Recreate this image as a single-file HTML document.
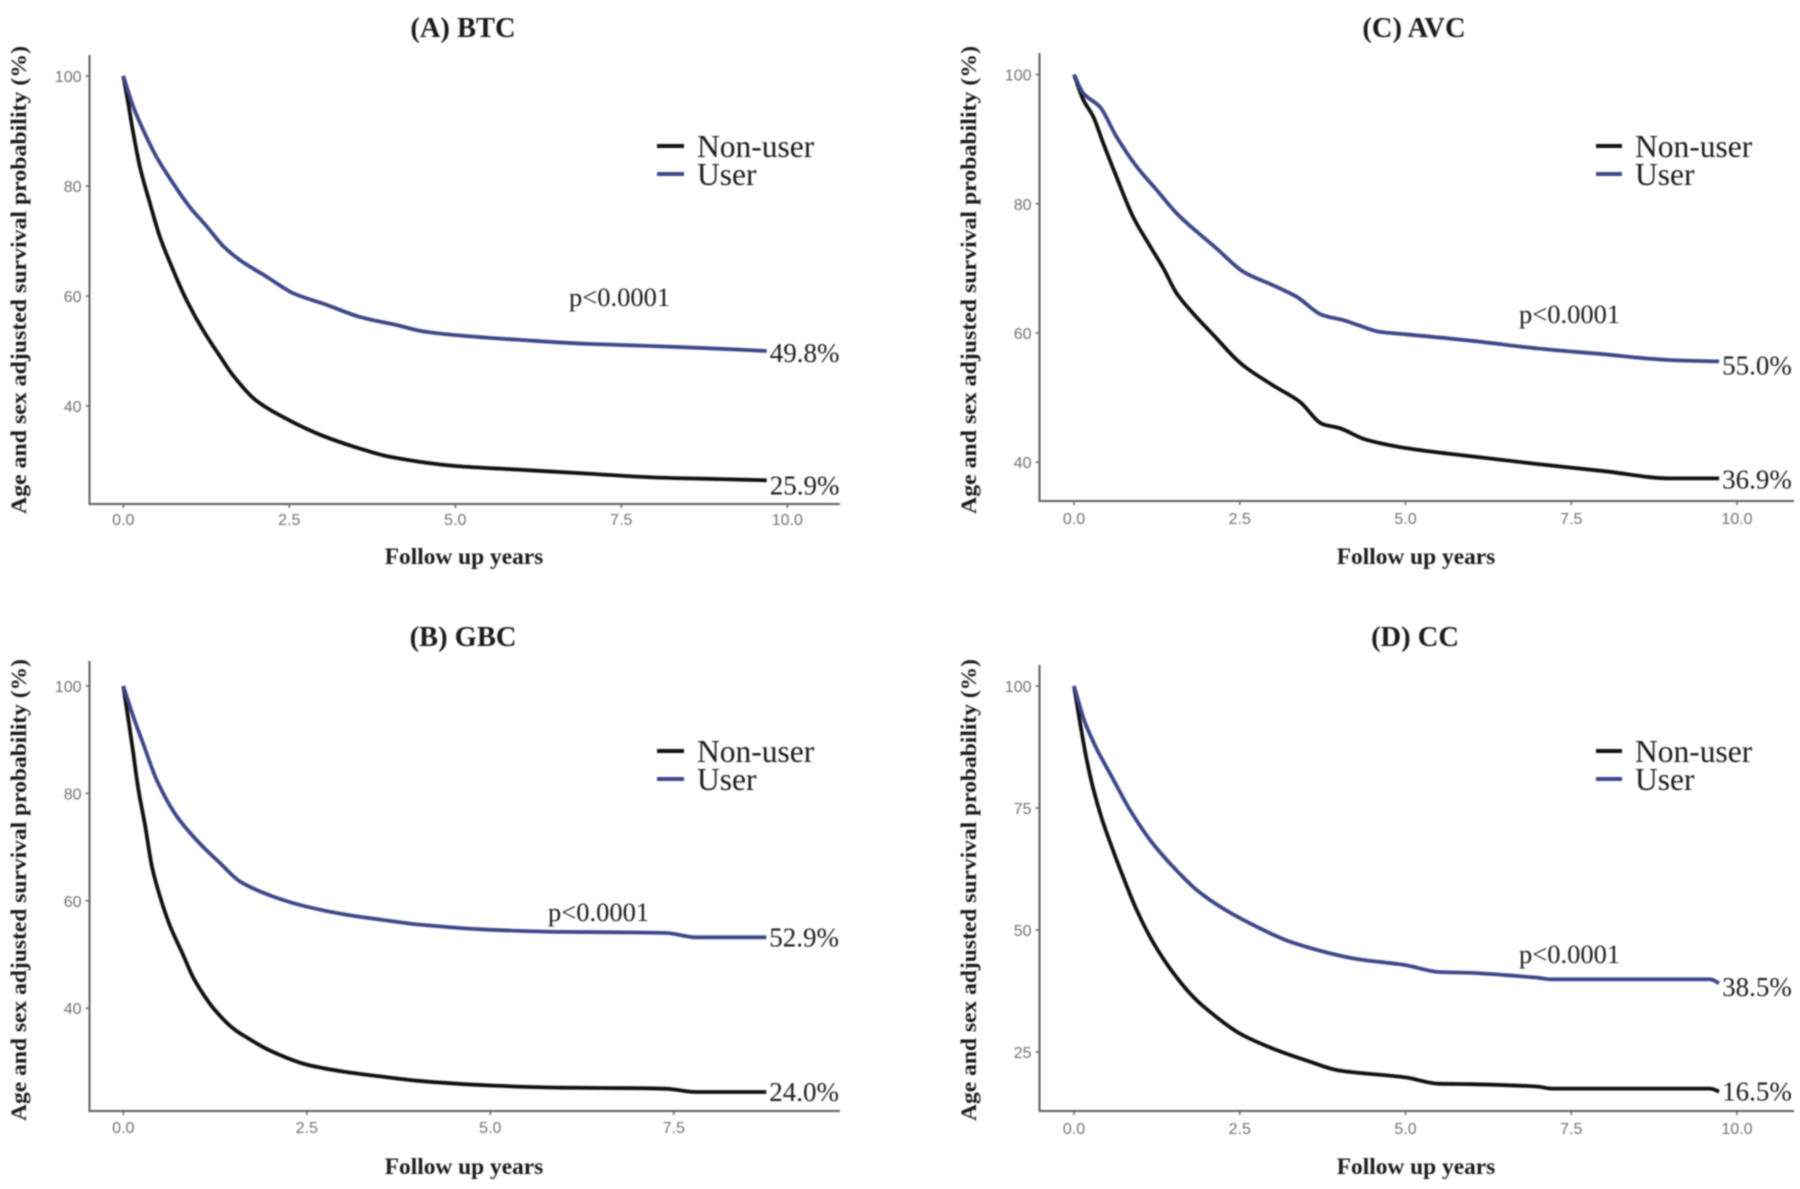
<!DOCTYPE html>
<html lang="en">
<head>
<meta charset="utf-8">
<title>Age and sex adjusted survival probability</title>
<style>
  html, body { margin: 0; padding: 0; background: #fff; }
  #figure { display: block; width: 1800px; height: 1189px; filter: blur(0.8px); }
  text { font-family: "Liberation Serif", serif; fill: #1a1a1a; }
  .title { font-size: 28.5px; font-weight: bold; text-anchor: middle; }
  .axis-title { font-size: 23.4px; font-weight: bold; text-anchor: middle; }
  .y-title { font-size: 22px; }
  .legend-text { font-size: 31.5px; }
  .p-value { font-size: 26.5px; }
  .end-label { font-size: 27px; }
  .tick-label { font-family: "Liberation Sans", sans-serif; font-size: 16px; fill: #707070; }
  .axis { stroke: #5c5c5c; stroke-width: 2; fill: none; }
  .tick { stroke: #666; stroke-width: 1.5; }
  .curve { fill: none; stroke-width: 3.8; stroke-linejoin: round; stroke-linecap: butt; }
  .non-user { stroke: #0f0f0f; }
  .user { stroke: #3d4788; }
  .legend-key { stroke-width: 4; }
</style>
</head>
<body>
<svg id="figure" xmlns="http://www.w3.org/2000/svg" width="1800" height="1189" viewBox="0 0 1800 1189">
  <rect width="1800" height="1189" fill="#fff"/>

  <g id="panel-a">
    <text class="title" x="463" y="37">(A) BTC</text>
    <text class="axis-title" x="464" y="564">Follow up years</text>
    <text class="axis-title y-title" transform="translate(26,280) rotate(-90)" textLength="468" lengthAdjust="spacingAndGlyphs">Age and sex adjusted survival probability (%)</text>
    <line class="curve non-user legend-key" x1="657" x2="684" y1="146" y2="146"/>
    <text class="legend-text" x="697" y="157">Non-user</text>
    <line class="curve user legend-key" x1="657" x2="684" y1="174" y2="174"/>
    <text class="legend-text" x="697" y="185">User</text>
    <text class="p-value" x="569" y="306">p&lt;0.0001</text>
  </g>

  <g id="panel-c">
    <text class="title" x="1414" y="37">(C) AVC</text>
    <text class="axis-title" x="1416" y="564">Follow up years</text>
    <text class="axis-title y-title" transform="translate(976,280) rotate(-90)" textLength="468" lengthAdjust="spacingAndGlyphs">Age and sex adjusted survival probability (%)</text>
    <line class="curve non-user legend-key" x1="1596" x2="1622" y1="146" y2="146"/>
    <text class="legend-text" x="1635" y="157">Non-user</text>
    <line class="curve user legend-key" x1="1596" x2="1622" y1="174" y2="174"/>
    <text class="legend-text" x="1635" y="185">User</text>
    <text class="p-value" x="1519" y="323">p&lt;0.0001</text>
  </g>

  <g id="panel-b">
    <text class="title" x="463" y="646">(B) GBC</text>
    <text class="axis-title" x="464" y="1174">Follow up years</text>
    <text class="axis-title y-title" transform="translate(26,890) rotate(-90)" textLength="462" lengthAdjust="spacingAndGlyphs">Age and sex adjusted survival probability (%)</text>
    <line class="curve non-user legend-key" x1="657" x2="684" y1="751" y2="751"/>
    <text class="legend-text" x="697" y="762">Non-user</text>
    <line class="curve user legend-key" x1="657" x2="684" y1="779" y2="779"/>
    <text class="legend-text" x="697" y="790">User</text>
    <text class="p-value" x="548" y="921">p&lt;0.0001</text>
  </g>

  <g id="panel-d">
    <text class="title" x="1415" y="646">(D) CC</text>
    <text class="axis-title" x="1416" y="1174">Follow up years</text>
    <text class="axis-title y-title" transform="translate(976,890) rotate(-90)" textLength="462" lengthAdjust="spacingAndGlyphs">Age and sex adjusted survival probability (%)</text>
    <line class="curve non-user legend-key" x1="1596" x2="1622" y1="751" y2="751"/>
    <text class="legend-text" x="1635" y="762">Non-user</text>
    <line class="curve user legend-key" x1="1596" x2="1622" y1="779" y2="779"/>
    <text class="legend-text" x="1635" y="790">User</text>
    <text class="p-value" x="1519" y="963">p&lt;0.0001</text>
  </g>
</svg>

<script>
// ---- Data ----
const btcXTicks = [0, 2.5, 5, 7.5, 10];
const btcYTicks = [40, 60, 80, 100];
const btcNonUserYears = [0, 0.075, 0.15, 0.25, 0.4, 0.55, 0.73, 0.95, 1.2, 1.48, 1.65, 2, 2.5, 3, 3.5, 4, 5, 6, 7, 8, 9, 9.69];
const btcNonUserValues = [100, 95, 89.6, 83.5, 76.9, 70.8, 65.3, 59.3, 53.8, 48.6, 45.6, 41, 37.4, 34.6, 32.5, 30.8, 29.1, 28.4, 27.7, 27, 26.7, 26.5];
const btcUserYears = [0, 0.15, 0.3, 0.5, 0.75, 1, 1.26, 1.51, 1.76, 2.16, 2.56, 3.06, 3.56, 4.12, 4.5, 5, 6, 7, 8, 9, 9.69];
const btcUserValues = [100, 94.4, 90.2, 85.3, 80.5, 76.2, 72.6, 69, 66.5, 63.5, 60.5, 58.4, 56.2, 54.7, 53.6, 52.9, 52, 51.3, 50.9, 50.4, 50];
const btcEndLabels = ["25.9%", "49.8%"];

const gbcXTicks = [0, 2.5, 5, 7.5];
const gbcYTicks = [40, 60, 80, 100];
const gbcNonUserYears = [0, 0.07, 0.136, 0.2, 0.3, 0.39, 0.5, 0.64, 0.8, 0.95, 1.1, 1.25, 1.5, 1.7, 2, 2.5, 3, 3.5, 4, 5, 6, 7, 7.4, 7.8, 8.76];
const gbcNonUserValues = [100, 93.7, 87.5, 81.2, 73.8, 66.4, 60.8, 55.2, 50.4, 45.8, 42.4, 39.6, 36.2, 34.4, 32.1, 29.5, 28.2, 27.3, 26.5, 25.6, 25.2, 25.1, 25, 24.4, 24.4];
const gbcUserYears = [0, 0.136, 0.27, 0.455, 0.73, 1.04, 1.32, 1.59, 2.04, 2.5, 3.04, 3.72, 4, 5, 6, 7, 7.4, 7.8, 8.76];
const gbcUserValues = [100, 94.3, 89.3, 82.5, 75.7, 70.7, 67, 63.6, 60.8, 58.9, 57.4, 56.1, 55.6, 54.6, 54.2, 54.1, 54, 53.2, 53.2];
const gbcEndLabels = ["24.0%", "52.9%"];

const avcXTicks = [0, 2.5, 5, 7.5, 10];
const avcYTicks = [40, 60, 80, 100];
const avcNonUserYears = [0, 0.14, 0.29, 0.44, 0.62, 0.89, 1.12, 1.35, 1.55, 1.8, 2.13, 2.43, 2.6, 3, 3.4, 3.75, 4, 4.4, 5, 6, 7, 8, 9, 9.73];
const avcNonUserValues = [100, 96.1, 93.5, 89.4, 84.7, 78, 73.9, 70, 66.1, 63, 59.4, 56.1, 54.6, 51.9, 49.4, 45.9, 45.3, 43.5, 42.2, 40.9, 39.7, 38.6, 37.5, 37.5];
const avcUserYears = [0, 0.14, 0.39, 0.64, 0.95, 1.25, 1.55, 1.85, 2.15, 2.55, 3, 3.36, 3.74, 4.06, 4.29, 4.6, 5, 6, 7, 8, 9, 9.73];
const avcUserValues = [100, 97.1, 95, 90.4, 85.7, 82.1, 78.5, 75.7, 73.1, 69.5, 67.4, 65.6, 62.8, 62, 61.2, 60.2, 59.8, 58.8, 57.6, 56.7, 55.8, 55.6];
const avcEndLabels = ["36.9%", "55.0%"];

const ccXTicks = [0, 2.5, 5, 7.5, 10];
const ccYTicks = [25, 50, 75, 100];
const ccNonUserYears = [0, 0.116, 0.19, 0.29, 0.42, 0.57, 0.74, 0.945, 1.2, 1.45, 1.75, 2, 2.5, 3, 3.5, 4, 5, 5.5, 6, 7, 7.2, 9.6, 9.73];
const ccNonUserValues = [100, 90.5, 85, 79, 72.8, 67, 60.9, 54.1, 47.3, 42.1, 37, 33.8, 28.8, 25.7, 23.3, 21.2, 19.8, 18.5, 18.4, 17.9, 17.5, 17.5, 16.9];
const ccUserYears = [0, 0.166, 0.34, 0.57, 0.845, 1.15, 1.47, 1.85, 2.25, 2.65, 3.26, 3.96, 4.29, 5, 5.5, 6, 7, 7.2, 9.6, 9.73];
const ccUserValues = [100, 92.5, 87.2, 81.4, 74.6, 68.4, 63.3, 58.2, 54.4, 51.4, 47.6, 44.9, 44, 42.8, 41.4, 41.2, 40.2, 39.9, 39.9, 39.1];
const ccEndLabels = ["16.5%", "38.5%"];

// ---- Drawing ----
const SVG_NS = 'http://www.w3.org/2000/svg';

function make(tag, attrs, parent) {
  const el = document.createElementNS(SVG_NS, tag);
  for (const key in attrs) el.setAttribute(key, attrs[key]);
  parent.appendChild(el);
  return el;
}

// Monotone cubic path through the scaled data points.
function smoothPath(px, py) {
  const n = px.length;
  const secants = [];
  for (let i = 0; i < n - 1; i++) secants.push((py[i + 1] - py[i]) / (px[i + 1] - px[i]));
  const slopes = [secants[0]];
  for (let i = 1; i < n - 1; i++) {
    const a = secants[i - 1];
    const b = secants[i];
    slopes.push(a * b <= 0 ? 0 : 2 * a * b / (a + b));
  }
  slopes.push(secants[n - 2]);
  let d = 'M' + px[0].toFixed(1) + ' ' + py[0].toFixed(1);
  for (let i = 0; i < n - 1; i++) {
    const dx = (px[i + 1] - px[i]) / 3;
    d += 'C' + (px[i] + dx).toFixed(1) + ' ' + (py[i] + slopes[i] * dx).toFixed(1) + ' ' +
      (px[i + 1] - dx).toFixed(1) + ' ' + (py[i + 1] - slopes[i + 1] * dx).toFixed(1) + ' ' +
      px[i + 1].toFixed(1) + ' ' + py[i + 1].toFixed(1);
  }
  return d;
}

function drawPanel(p) {
  const host = document.getElementById(p.id);
  const xScale = function (t) { return p.x0 + t * p.pxPerYear; };
  const yScale = function (v) { return p.y100 + (100 - v) * p.pxPerUnit; };

  const axes = make('path', { class: 'axis', d: 'M' + p.left + ' ' + p.top + 'V' + p.bottom + 'H' + p.right }, host);
  
  

  p.xTicks.forEach(function (t) {
    const tick = make('line', { class: 'tick', x1: xScale(t), x2: xScale(t), y1: p.bottom, y2: p.bottom + 4 }, host);
    
    
    const label = make('text', { class: 'tick-label', x: xScale(t), y: p.bottom + p.tickDy, 'text-anchor': 'middle' }, host);
    
    
    label.textContent = t.toFixed(1);
  });

  p.yTicks.forEach(function (v) {
    const tick = make('line', { class: 'tick', x1: p.left - 4, x2: p.left, y1: yScale(v), y2: yScale(v) }, host);
    
    
    const label = make('text', { class: 'tick-label', x: p.left - 8, y: yScale(v) + 6, 'text-anchor': 'end' }, host);
    
    
    label.textContent = String(v);
  });

  p.series.forEach(function (s) {
    const d = smoothPath(s.years.map(xScale), s.values.map(yScale));
    const line = make('path', { class: 'curve ' + s.cls, d: d }, host);
    
    

    const lastT = s.years[s.years.length - 1];
    const lastV = s.values[s.values.length - 1];
    const endLabel = make('text', { class: 'end-label', x: xScale(lastT) + 3, y: yScale(lastV) + s.labelDy }, host);
    
    
    endLabel.textContent = s.label;
  });
}

drawPanel({
  id: 'panel-a', left: 89.5, right: 840, top: 55, bottom: 504, tickDy: 21,
  x0: 123.3, pxPerYear: 66.4, y100: 76, pxPerUnit: 5.5,
  xTicks: btcXTicks, yTicks: btcYTicks,
  series: [
    { cls: 'non-user', years: btcNonUserYears, values: btcNonUserValues, label: btcEndLabels[0], labelDy: 14 },
    { cls: 'user', years: btcUserYears, values: btcUserValues, label: btcEndLabels[1], labelDy: 11 }
  ]
});
drawPanel({
  id: 'panel-b', left: 89.5, right: 840, top: 661, bottom: 1111, tickDy: 22,
  x0: 123.3, pxPerYear: 73.4, y100: 686, pxPerUnit: 5.37,
  xTicks: gbcXTicks, yTicks: gbcYTicks,
  series: [
    { cls: 'non-user', years: gbcNonUserYears, values: gbcNonUserValues, label: gbcEndLabels[0], labelDy: 9 },
    { cls: 'user', years: gbcUserYears, values: gbcUserValues, label: gbcEndLabels[1], labelDy: 9 }
  ]
});
drawPanel({
  id: 'panel-c', left: 1039.5, right: 1794, top: 53, bottom: 501, tickDy: 23,
  x0: 1074, pxPerYear: 66.3, y100: 74.6, pxPerUnit: 6.46,
  xTicks: avcXTicks, yTicks: avcYTicks,
  series: [
    { cls: 'non-user', years: avcNonUserYears, values: avcNonUserValues, label: avcEndLabels[0], labelDy: 10 },
    { cls: 'user', years: avcUserYears, values: avcUserValues, label: avcEndLabels[1], labelDy: 13 }
  ]
});
drawPanel({
  id: 'panel-d', left: 1039.5, right: 1794, top: 665, bottom: 1111, tickDy: 23,
  x0: 1074, pxPerYear: 66.3, y100: 686, pxPerUnit: 4.88,
  xTicks: ccXTicks, yTicks: ccYTicks,
  series: [
    { cls: 'non-user', years: ccNonUserYears, values: ccNonUserValues, label: ccEndLabels[0], labelDy: 9 },
    { cls: 'user', years: ccUserYears, values: ccUserValues, label: ccEndLabels[1], labelDy: 13 }
  ]
});
</script>
</body>
</html>
